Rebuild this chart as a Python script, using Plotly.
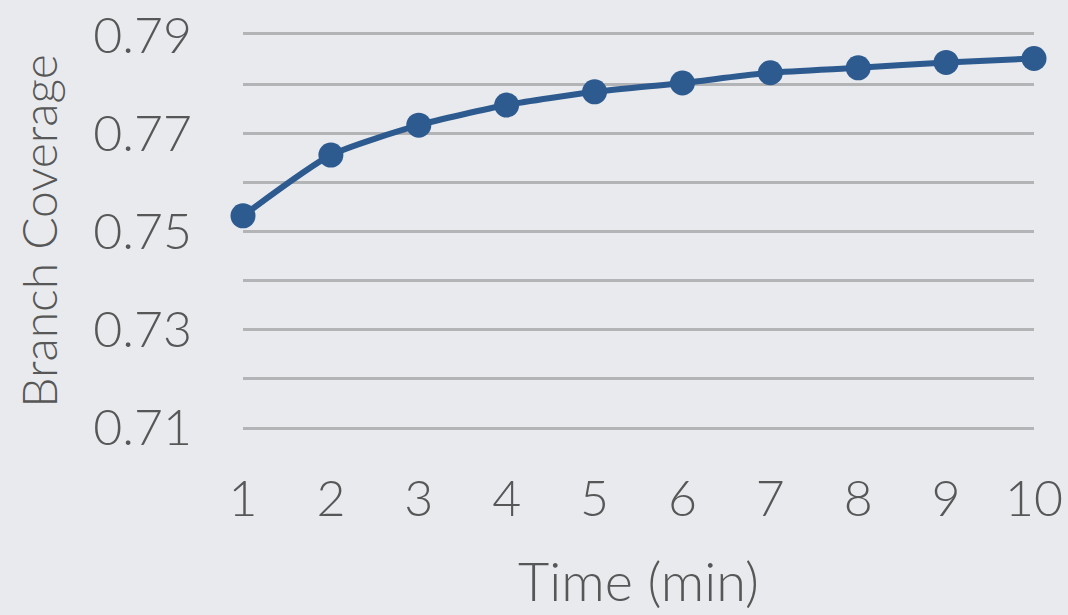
import plotly.graph_objects as go

# Branch coverage over fuzzing time
minutes = [1, 2, 3, 4, 5, 6, 7, 8, 9, 10]
coverage = [0.7531, 0.7655, 0.7716, 0.7757, 0.7784, 0.7802, 0.7823, 0.7833, 0.7844, 0.7852]
y_ticks = [0.71, 0.73, 0.75, 0.77, 0.79]
y_tick_labels = ["0.71", "0.73", "0.75", "0.77", "0.79"]

LINE = "#2d5a8f"
TEXT = "#575757"
GRID = "#b3b4b6"
FONT = "Lato"

fig = go.Figure(
    go.Scatter(
        x=minutes,
        y=coverage,
        mode="lines+markers",
        line=dict(color=LINE, width=6, shape="spline", smoothing=0.6),
        marker=dict(color=LINE, size=25),
        cliponaxis=False,
        showlegend=False,
    )
)

fig.update_layout(
    width=1068,
    height=615,
    margin=dict(l=243, r=34, t=35, b=188),
    paper_bgcolor="#e8eaee",
    plot_bgcolor="rgba(0,0,0,0)",
    font=dict(family=FONT, color=TEXT),
)

fig.update_xaxes(
    range=[1, 10],
    tickvals=minutes,
    tickfont=dict(size=50, family=FONT, color=TEXT, weight=300),
    showgrid=False,
    zeroline=False,
    # bottom and top rules complete the horizontal grid at the range edges
    showline=True,
    mirror=True,
    linecolor=GRID,
    linewidth=2.5,
    ticks="",
    ticklabelstandoff=26,
    automargin=False,
    title=dict(text="Time (min)", font=dict(size=54, family=FONT, color=TEXT, weight=300), standoff=38),
)

fig.update_yaxes(
    range=[0.71, 0.79],
    tickvals=y_ticks,
    ticktext=y_tick_labels,
    tickfont=dict(size=50, family=FONT, color=TEXT, weight=300),
    showgrid=True,
    gridcolor=GRID,
    gridwidth=2.5,
    minor=dict(dtick=0.01, tick0=0.71, showgrid=True, gridcolor=GRID, gridwidth=2.5),
    zeroline=False,
    showline=False,
    ticks="",
    ticklabelstandoff=50,
    automargin=False,
    title=dict(text="Branch Coverage", font=dict(size=48, family=FONT, color=TEXT, weight=300), standoff=20),
)

fig.write_html("out.html")
